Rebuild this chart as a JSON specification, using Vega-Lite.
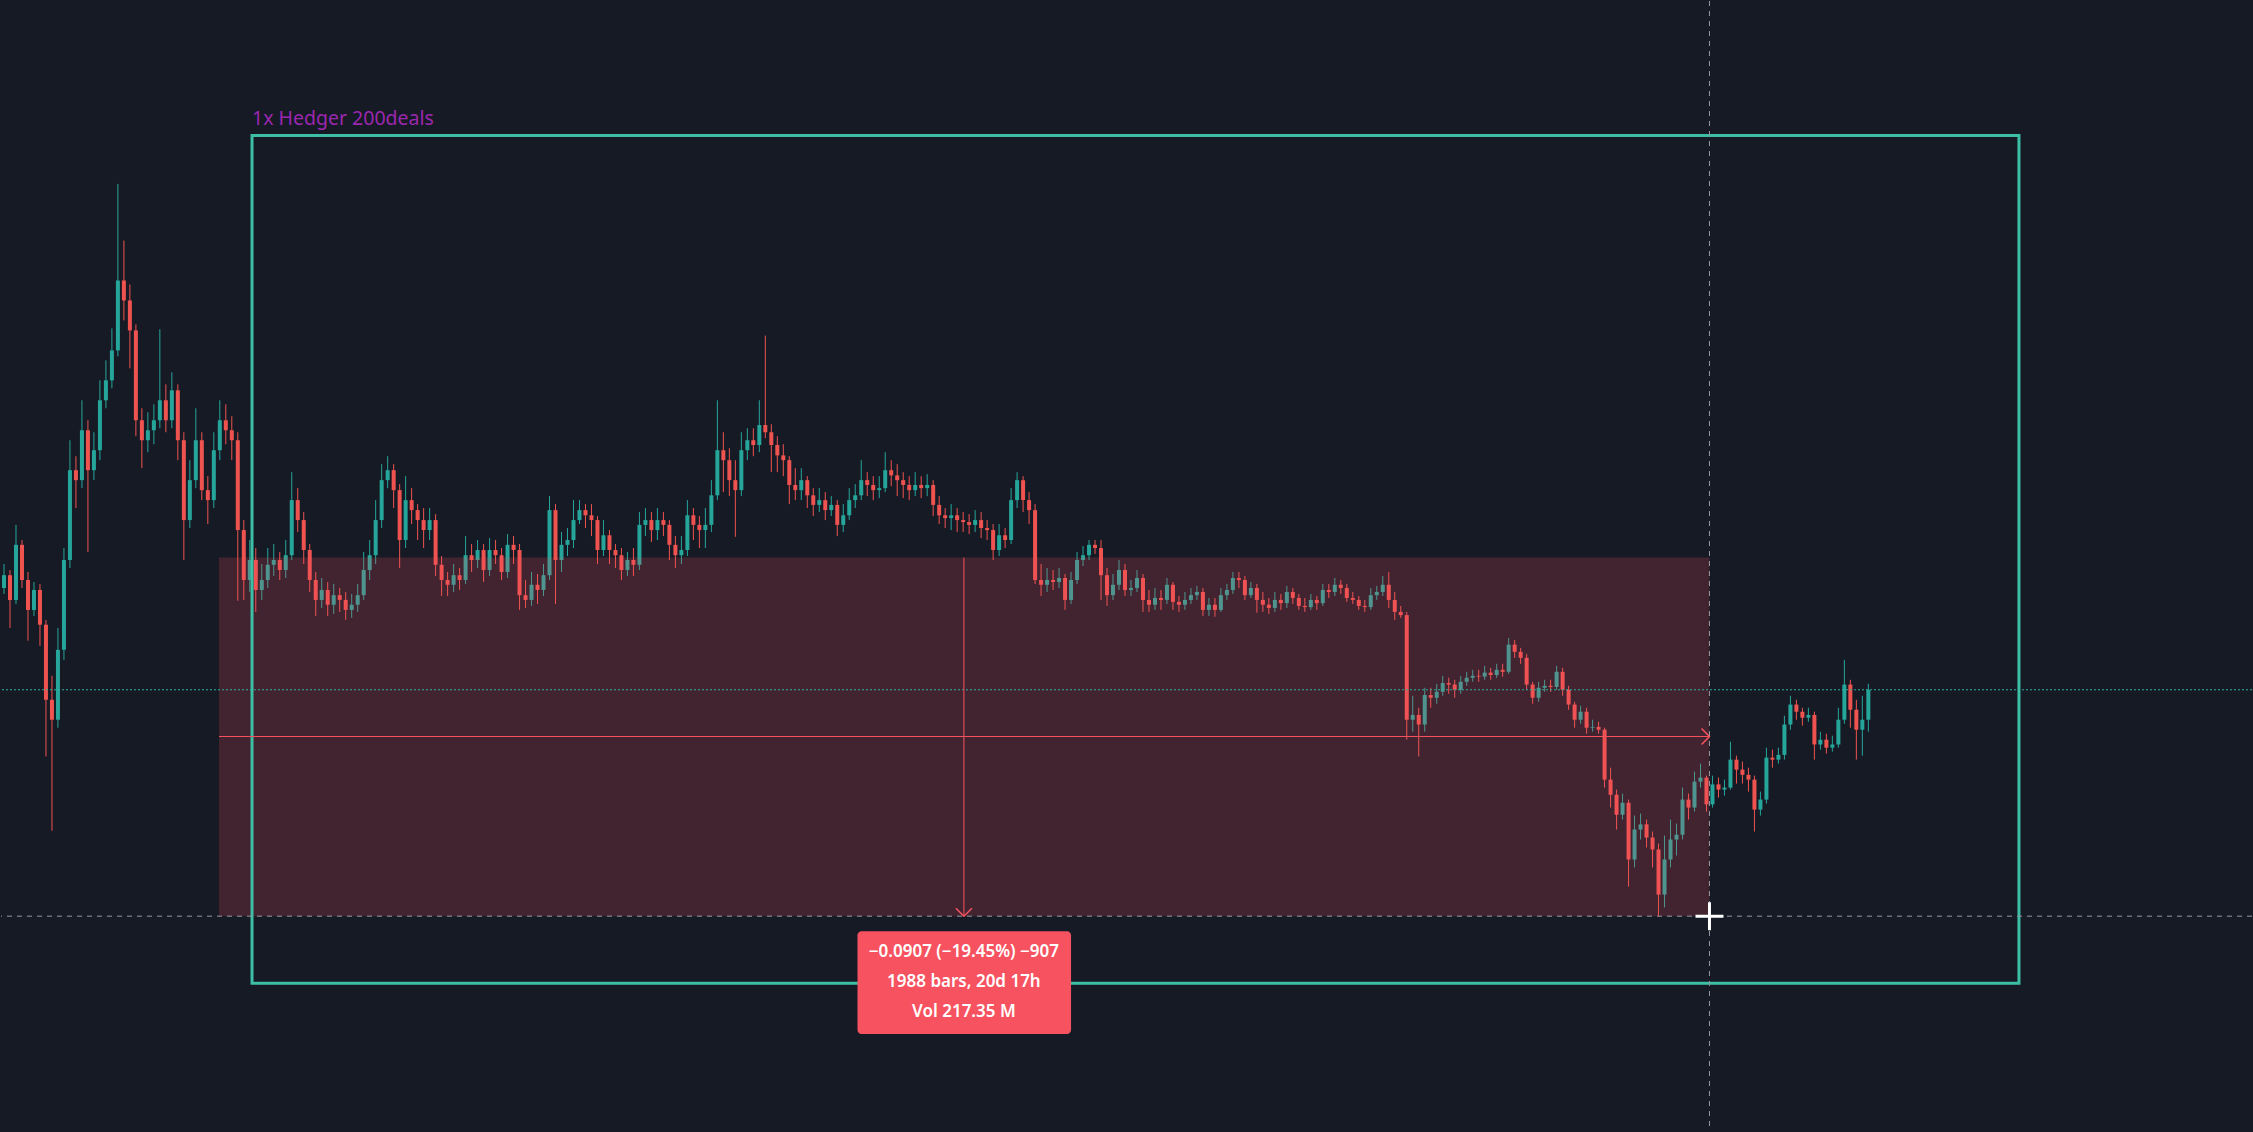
{
"$schema": "https://vega.github.io/schema/vega-lite/v6.json",
"width": 2253, "height": 1132,
"autosize": {"type": "fit", "contains": "padding"},
"padding": 0,
"background": "#161a25",
"config": {"view": {"stroke": null}, "axis": {"disable": true}, "scale": {"continuousPadding": 0}},
"datasets": {
"candles": [
{"t":4,"o":0.4600,"c":0.4632,"h":0.4660,"l":0.4585},
{"t":12,"o":0.4632,"c":0.4570,"h":0.4645,"l":0.4500},
{"t":20,"o":0.4570,"c":0.4708,"h":0.4758,"l":0.4560},
{"t":28,"o":0.4708,"c":0.4620,"h":0.4720,"l":0.4600},
{"t":36,"o":0.4620,"c":0.4545,"h":0.4640,"l":0.4468},
{"t":44,"o":0.4545,"c":0.4595,"h":0.4615,"l":0.4530},
{"t":52,"o":0.4595,"c":0.4508,"h":0.4610,"l":0.4455},
{"t":60,"o":0.4508,"c":0.4320,"h":0.4520,"l":0.4178},
{"t":68,"o":0.4320,"c":0.4270,"h":0.4380,"l":0.3992},
{"t":76,"o":0.4270,"c":0.4445,"h":0.4500,"l":0.4250},
{"t":84,"o":0.4445,"c":0.4670,"h":0.4700,"l":0.4420},
{"t":92,"o":0.4670,"c":0.4895,"h":0.4970,"l":0.4650},
{"t":100,"o":0.4895,"c":0.4870,"h":0.4930,"l":0.4800},
{"t":108,"o":0.4870,"c":0.4995,"h":0.5070,"l":0.4850},
{"t":116,"o":0.4995,"c":0.4895,"h":0.5020,"l":0.4690},
{"t":124,"o":0.4895,"c":0.4945,"h":0.4990,"l":0.4870},
{"t":132,"o":0.4945,"c":0.5070,"h":0.5120,"l":0.4920},
{"t":140,"o":0.5070,"c":0.5120,"h":0.5170,"l":0.5050},
{"t":148,"o":0.5120,"c":0.5195,"h":0.5250,"l":0.5100},
{"t":156,"o":0.5195,"c":0.5370,"h":0.5612,"l":0.5180},
{"t":164,"o":0.5370,"c":0.5320,"h":0.5470,"l":0.5270},
{"t":172,"o":0.5320,"c":0.5245,"h":0.5360,"l":0.5150},
{"t":180,"o":0.5245,"c":0.5020,"h":0.5260,"l":0.4980},
{"t":188,"o":0.5020,"c":0.4970,"h":0.5050,"l":0.4900},
{"t":196,"o":0.4970,"c":0.4995,"h":0.5040,"l":0.4940},
{"t":204,"o":0.4995,"c":0.5020,"h":0.5060,"l":0.4960},
{"t":212,"o":0.5020,"c":0.5070,"h":0.5248,"l":0.5000},
{"t":220,"o":0.5070,"c":0.5020,"h":0.5110,"l":0.4990},
{"t":228,"o":0.5020,"c":0.5095,"h":0.5140,"l":0.5000},
{"t":236,"o":0.5095,"c":0.4970,"h":0.5110,"l":0.4920},
{"t":244,"o":0.4970,"c":0.4770,"h":0.4990,"l":0.4670},
{"t":252,"o":0.4770,"c":0.4870,"h":0.4920,"l":0.4750},
{"t":260,"o":0.4870,"c":0.4970,"h":0.5050,"l":0.4850},
{"t":268,"o":0.4970,"c":0.4845,"h":0.4990,"l":0.4820},
{"t":276,"o":0.4845,"c":0.4820,"h":0.4880,"l":0.4760},
{"t":284,"o":0.4820,"c":0.4945,"h":0.4990,"l":0.4800},
{"t":292,"o":0.4945,"c":0.5020,"h":0.5070,"l":0.4920},
{"t":300,"o":0.5020,"c":0.4995,"h":0.5060,"l":0.4960},
{"t":308,"o":0.4995,"c":0.4970,"h":0.5030,"l":0.4920},
{"t":316,"o":0.4970,"c":0.4745,"h":0.4990,"l":0.4568},
{"t":324,"o":0.4745,"c":0.4620,"h":0.4770,"l":0.4570},
{"t":332,"o":0.4620,"c":0.4670,"h":0.4720,"l":0.4590},
{"t":340,"o":0.4670,"c":0.4595,"h":0.4700,"l":0.4540},
{"t":348,"o":0.4595,"c":0.4620,"h":0.4660,"l":0.4570},
{"t":356,"o":0.4620,"c":0.4658,"h":0.4700,"l":0.4600},
{"t":364,"o":0.4658,"c":0.4670,"h":0.4710,"l":0.4630},
{"t":372,"o":0.4670,"c":0.4645,"h":0.4690,"l":0.4620},
{"t":380,"o":0.4645,"c":0.4682,"h":0.4720,"l":0.4625},
{"t":388,"o":0.4682,"c":0.4820,"h":0.4890,"l":0.4670},
{"t":396,"o":0.4820,"c":0.4770,"h":0.4850,"l":0.4740},
{"t":404,"o":0.4770,"c":0.4695,"h":0.4790,"l":0.4660},
{"t":412,"o":0.4695,"c":0.4620,"h":0.4710,"l":0.4590},
{"t":420,"o":0.4620,"c":0.4570,"h":0.4640,"l":0.4530},
{"t":428,"o":0.4570,"c":0.4595,"h":0.4625,"l":0.4550},
{"t":436,"o":0.4595,"c":0.4558,"h":0.4615,"l":0.4530},
{"t":444,"o":0.4558,"c":0.4582,"h":0.4610,"l":0.4535},
{"t":452,"o":0.4582,"c":0.4570,"h":0.4600,"l":0.4540},
{"t":460,"o":0.4570,"c":0.4545,"h":0.4590,"l":0.4520},
{"t":468,"o":0.4545,"c":0.4558,"h":0.4585,"l":0.4525},
{"t":476,"o":0.4558,"c":0.4582,"h":0.4610,"l":0.4540},
{"t":484,"o":0.4582,"c":0.4645,"h":0.4690,"l":0.4570},
{"t":492,"o":0.4645,"c":0.4682,"h":0.4720,"l":0.4620},
{"t":500,"o":0.4682,"c":0.4770,"h":0.4820,"l":0.4660},
{"t":508,"o":0.4770,"c":0.4870,"h":0.4910,"l":0.4750},
{"t":516,"o":0.4870,"c":0.4895,"h":0.4930,"l":0.4850},
{"t":524,"o":0.4895,"c":0.4845,"h":0.4910,"l":0.4800},
{"t":532,"o":0.4845,"c":0.4720,"h":0.4860,"l":0.4650},
{"t":540,"o":0.4720,"c":0.4820,"h":0.4880,"l":0.4700},
{"t":548,"o":0.4820,"c":0.4795,"h":0.4850,"l":0.4760},
{"t":556,"o":0.4795,"c":0.4770,"h":0.4810,"l":0.4720},
{"t":564,"o":0.4770,"c":0.4745,"h":0.4800,"l":0.4700},
{"t":572,"o":0.4745,"c":0.4770,"h":0.4800,"l":0.4720},
{"t":580,"o":0.4770,"c":0.4658,"h":0.4785,"l":0.4630},
{"t":588,"o":0.4658,"c":0.4620,"h":0.4680,"l":0.4580},
{"t":596,"o":0.4620,"c":0.4608,"h":0.4640,"l":0.4580},
{"t":604,"o":0.4608,"c":0.4632,"h":0.4660,"l":0.4590},
{"t":612,"o":0.4632,"c":0.4620,"h":0.4650,"l":0.4595},
{"t":620,"o":0.4620,"c":0.4682,"h":0.4730,"l":0.4610},
{"t":628,"o":0.4682,"c":0.4670,"h":0.4710,"l":0.4640},
{"t":636,"o":0.4670,"c":0.4695,"h":0.4720,"l":0.4650},
{"t":644,"o":0.4695,"c":0.4645,"h":0.4710,"l":0.4615},
{"t":652,"o":0.4645,"c":0.4695,"h":0.4725,"l":0.4630},
{"t":660,"o":0.4695,"c":0.4682,"h":0.4720,"l":0.4660},
{"t":668,"o":0.4682,"c":0.4640,"h":0.4700,"l":0.4620},
{"t":676,"o":0.4640,"c":0.4708,"h":0.4735,"l":0.4625},
{"t":684,"o":0.4708,"c":0.4695,"h":0.4730,"l":0.4660},
{"t":692,"o":0.4695,"c":0.4582,"h":0.4710,"l":0.4545},
{"t":700,"o":0.4582,"c":0.4570,"h":0.4620,"l":0.4550},
{"t":708,"o":0.4570,"c":0.4608,"h":0.4640,"l":0.4555},
{"t":716,"o":0.4608,"c":0.4595,"h":0.4635,"l":0.4560},
{"t":724,"o":0.4595,"c":0.4632,"h":0.4660,"l":0.4580},
{"t":732,"o":0.4632,"c":0.4795,"h":0.4830,"l":0.4620},
{"t":740,"o":0.4795,"c":0.4670,"h":0.4810,"l":0.4560},
{"t":748,"o":0.4670,"c":0.4708,"h":0.4740,"l":0.4640},
{"t":756,"o":0.4708,"c":0.4720,"h":0.4750,"l":0.4680},
{"t":764,"o":0.4720,"c":0.4770,"h":0.4820,"l":0.4700},
{"t":772,"o":0.4770,"c":0.4795,"h":0.4820,"l":0.4760},
{"t":780,"o":0.4795,"c":0.4782,"h":0.4810,"l":0.4750},
{"t":788,"o":0.4782,"c":0.4770,"h":0.4810,"l":0.4730},
{"t":796,"o":0.4770,"c":0.4695,"h":0.4780,"l":0.4660},
{"t":804,"o":0.4695,"c":0.4732,"h":0.4770,"l":0.4680},
{"t":812,"o":0.4732,"c":0.4695,"h":0.4745,"l":0.4660},
{"t":820,"o":0.4695,"c":0.4682,"h":0.4710,"l":0.4650},
{"t":828,"o":0.4682,"c":0.4645,"h":0.4700,"l":0.4620},
{"t":836,"o":0.4645,"c":0.4670,"h":0.4690,"l":0.4630},
{"t":844,"o":0.4670,"c":0.4658,"h":0.4700,"l":0.4630},
{"t":852,"o":0.4658,"c":0.4758,"h":0.4790,"l":0.4645},
{"t":860,"o":0.4758,"c":0.4770,"h":0.4800,"l":0.4730},
{"t":868,"o":0.4770,"c":0.4745,"h":0.4790,"l":0.4715},
{"t":876,"o":0.4745,"c":0.4770,"h":0.4800,"l":0.4720},
{"t":884,"o":0.4770,"c":0.4758,"h":0.4790,"l":0.4730},
{"t":892,"o":0.4758,"c":0.4708,"h":0.4770,"l":0.4670},
{"t":900,"o":0.4708,"c":0.4682,"h":0.4730,"l":0.4650},
{"t":908,"o":0.4682,"c":0.4695,"h":0.4730,"l":0.4660},
{"t":916,"o":0.4695,"c":0.4782,"h":0.4820,"l":0.4680},
{"t":924,"o":0.4782,"c":0.4758,"h":0.4800,"l":0.4720},
{"t":932,"o":0.4758,"c":0.4745,"h":0.4780,"l":0.4700},
{"t":940,"o":0.4745,"c":0.4758,"h":0.4800,"l":0.4700},
{"t":948,"o":0.4758,"c":0.4832,"h":0.4870,"l":0.4740},
{"t":956,"o":0.4832,"c":0.4945,"h":0.5070,"l":0.4820},
{"t":964,"o":0.4945,"c":0.4920,"h":0.4990,"l":0.4840},
{"t":972,"o":0.4920,"c":0.4870,"h":0.4950,"l":0.4830},
{"t":980,"o":0.4870,"c":0.4845,"h":0.4920,"l":0.4728},
{"t":988,"o":0.4845,"c":0.4945,"h":0.4990,"l":0.4830},
{"t":996,"o":0.4945,"c":0.4970,"h":0.5000,"l":0.4920},
{"t":1004,"o":0.4970,"c":0.4958,"h":0.5000,"l":0.4930},
{"t":1012,"o":0.4958,"c":0.5008,"h":0.5070,"l":0.4940},
{"t":1020,"o":0.5008,"c":0.4990,"h":0.5232,"l":0.4975},
{"t":1028,"o":0.4990,"c":0.4958,"h":0.5010,"l":0.4890},
{"t":1036,"o":0.4958,"c":0.4932,"h":0.4980,"l":0.4890},
{"t":1044,"o":0.4932,"c":0.4920,"h":0.4960,"l":0.4880},
{"t":1052,"o":0.4920,"c":0.4858,"h":0.4930,"l":0.4810},
{"t":1060,"o":0.4858,"c":0.4845,"h":0.4900,"l":0.4820},
{"t":1068,"o":0.4845,"c":0.4870,"h":0.4900,"l":0.4820},
{"t":1076,"o":0.4870,"c":0.4832,"h":0.4880,"l":0.4800},
{"t":1084,"o":0.4832,"c":0.4808,"h":0.4850,"l":0.4780},
{"t":1092,"o":0.4808,"c":0.4820,"h":0.4850,"l":0.4790},
{"t":1100,"o":0.4820,"c":0.4795,"h":0.4840,"l":0.4770},
{"t":1108,"o":0.4795,"c":0.4808,"h":0.4830,"l":0.4780},
{"t":1116,"o":0.4808,"c":0.4758,"h":0.4820,"l":0.4730},
{"t":1124,"o":0.4758,"c":0.4782,"h":0.4810,"l":0.4740},
{"t":1132,"o":0.4782,"c":0.4820,"h":0.4850,"l":0.4770},
{"t":1140,"o":0.4820,"c":0.4832,"h":0.4860,"l":0.4800},
{"t":1148,"o":0.4832,"c":0.4870,"h":0.4920,"l":0.4820},
{"t":1156,"o":0.4870,"c":0.4858,"h":0.4890,"l":0.4830},
{"t":1164,"o":0.4858,"c":0.4845,"h":0.4880,"l":0.4820},
{"t":1172,"o":0.4845,"c":0.4850,"h":0.4880,"l":0.4825},
{"t":1180,"o":0.4850,"c":0.4895,"h":0.4940,"l":0.4840},
{"t":1188,"o":0.4895,"c":0.4882,"h":0.4920,"l":0.4855},
{"t":1196,"o":0.4882,"c":0.4870,"h":0.4910,"l":0.4830},
{"t":1204,"o":0.4870,"c":0.4858,"h":0.4890,"l":0.4825},
{"t":1212,"o":0.4858,"c":0.4845,"h":0.4880,"l":0.4820},
{"t":1220,"o":0.4845,"c":0.4858,"h":0.4890,"l":0.4830},
{"t":1228,"o":0.4858,"c":0.4850,"h":0.4880,"l":0.4825},
{"t":1236,"o":0.4850,"c":0.4858,"h":0.4885,"l":0.4830},
{"t":1244,"o":0.4858,"c":0.4808,"h":0.4870,"l":0.4780},
{"t":1252,"o":0.4808,"c":0.4782,"h":0.4830,"l":0.4760},
{"t":1260,"o":0.4782,"c":0.4775,"h":0.4800,"l":0.4750},
{"t":1268,"o":0.4775,"c":0.4782,"h":0.4810,"l":0.4745},
{"t":1276,"o":0.4782,"c":0.4770,"h":0.4800,"l":0.4740},
{"t":1284,"o":0.4770,"c":0.4765,"h":0.4790,"l":0.4740},
{"t":1292,"o":0.4765,"c":0.4758,"h":0.4785,"l":0.4735},
{"t":1300,"o":0.4758,"c":0.4770,"h":0.4795,"l":0.4740},
{"t":1308,"o":0.4770,"c":0.4750,"h":0.4790,"l":0.4725},
{"t":1316,"o":0.4750,"c":0.4745,"h":0.4770,"l":0.4720},
{"t":1324,"o":0.4745,"c":0.4695,"h":0.4760,"l":0.4670},
{"t":1332,"o":0.4695,"c":0.4732,"h":0.4760,"l":0.4680},
{"t":1340,"o":0.4732,"c":0.4720,"h":0.4750,"l":0.4700},
{"t":1348,"o":0.4720,"c":0.4820,"h":0.4850,"l":0.4710},
{"t":1356,"o":0.4820,"c":0.4870,"h":0.4890,"l":0.4800},
{"t":1364,"o":0.4870,"c":0.4820,"h":0.4880,"l":0.4790},
{"t":1372,"o":0.4820,"c":0.4795,"h":0.4840,"l":0.4760},
{"t":1380,"o":0.4795,"c":0.4620,"h":0.4810,"l":0.4610},
{"t":1388,"o":0.4620,"c":0.4608,"h":0.4660,"l":0.4580},
{"t":1396,"o":0.4608,"c":0.4620,"h":0.4650,"l":0.4590},
{"t":1404,"o":0.4620,"c":0.4615,"h":0.4645,"l":0.4595},
{"t":1412,"o":0.4615,"c":0.4625,"h":0.4650,"l":0.4600},
{"t":1420,"o":0.4625,"c":0.4570,"h":0.4635,"l":0.4545},
{"t":1428,"o":0.4570,"c":0.4620,"h":0.4640,"l":0.4560},
{"t":1436,"o":0.4620,"c":0.4670,"h":0.4690,"l":0.4610},
{"t":1444,"o":0.4670,"c":0.4682,"h":0.4705,"l":0.4655},
{"t":1452,"o":0.4682,"c":0.4708,"h":0.4720,"l":0.4670},
{"t":1460,"o":0.4708,"c":0.4700,"h":0.4720,"l":0.4685},
{"t":1468,"o":0.4700,"c":0.4632,"h":0.4720,"l":0.4570},
{"t":1476,"o":0.4632,"c":0.4582,"h":0.4650,"l":0.4555},
{"t":1484,"o":0.4582,"c":0.4608,"h":0.4635,"l":0.4570},
{"t":1492,"o":0.4608,"c":0.4645,"h":0.4670,"l":0.4595},
{"t":1500,"o":0.4645,"c":0.4595,"h":0.4660,"l":0.4580},
{"t":1508,"o":0.4595,"c":0.4600,"h":0.4620,"l":0.4580},
{"t":1516,"o":0.4600,"c":0.4625,"h":0.4645,"l":0.4590},
{"t":1524,"o":0.4625,"c":0.4570,"h":0.4635,"l":0.4540},
{"t":1532,"o":0.4570,"c":0.4558,"h":0.4595,"l":0.4540},
{"t":1540,"o":0.4558,"c":0.4575,"h":0.4600,"l":0.4545},
{"t":1548,"o":0.4575,"c":0.4570,"h":0.4595,"l":0.4545},
{"t":1556,"o":0.4570,"c":0.4608,"h":0.4625,"l":0.4560},
{"t":1564,"o":0.4608,"c":0.4565,"h":0.4615,"l":0.4545},
{"t":1572,"o":0.4565,"c":0.4558,"h":0.4580,"l":0.4540},
{"t":1580,"o":0.4558,"c":0.4570,"h":0.4590,"l":0.4545},
{"t":1588,"o":0.4570,"c":0.4582,"h":0.4600,"l":0.4560},
{"t":1596,"o":0.4582,"c":0.4590,"h":0.4605,"l":0.4570},
{"t":1604,"o":0.4590,"c":0.4545,"h":0.4600,"l":0.4530},
{"t":1612,"o":0.4545,"c":0.4558,"h":0.4575,"l":0.4530},
{"t":1620,"o":0.4558,"c":0.4545,"h":0.4575,"l":0.4528},
{"t":1628,"o":0.4545,"c":0.4582,"h":0.4600,"l":0.4540},
{"t":1636,"o":0.4582,"c":0.4595,"h":0.4610,"l":0.4570},
{"t":1644,"o":0.4595,"c":0.4625,"h":0.4640,"l":0.4585},
{"t":1652,"o":0.4625,"c":0.4620,"h":0.4640,"l":0.4600},
{"t":1660,"o":0.4620,"c":0.4582,"h":0.4630,"l":0.4570},
{"t":1668,"o":0.4582,"c":0.4600,"h":0.4615,"l":0.4575},
{"t":1676,"o":0.4600,"c":0.4570,"h":0.4610,"l":0.4538},
{"t":1684,"o":0.4570,"c":0.4558,"h":0.4590,"l":0.4540},
{"t":1692,"o":0.4558,"c":0.4550,"h":0.4575,"l":0.4535},
{"t":1700,"o":0.4550,"c":0.4570,"h":0.4590,"l":0.4540},
{"t":1708,"o":0.4570,"c":0.4562,"h":0.4585,"l":0.4545},
{"t":1716,"o":0.4562,"c":0.4590,"h":0.4605,"l":0.4550},
{"t":1724,"o":0.4590,"c":0.4575,"h":0.4600,"l":0.4560},
{"t":1732,"o":0.4575,"c":0.4555,"h":0.4585,"l":0.4545},
{"t":1740,"o":0.4555,"c":0.4552,"h":0.4575,"l":0.4540},
{"t":1748,"o":0.4552,"c":0.4570,"h":0.4585,"l":0.4545},
{"t":1756,"o":0.4570,"c":0.4562,"h":0.4580,"l":0.4545},
{"t":1764,"o":0.4562,"c":0.4595,"h":0.4610,"l":0.4555},
{"t":1772,"o":0.4595,"c":0.4590,"h":0.4610,"l":0.4575},
{"t":1780,"o":0.4590,"c":0.4608,"h":0.4625,"l":0.4580},
{"t":1788,"o":0.4608,"c":0.4600,"h":0.4620,"l":0.4585},
{"t":1796,"o":0.4600,"c":0.4575,"h":0.4610,"l":0.4565},
{"t":1804,"o":0.4575,"c":0.4570,"h":0.4590,"l":0.4560},
{"t":1812,"o":0.4570,"c":0.4555,"h":0.4580,"l":0.4545},
{"t":1820,"o":0.4555,"c":0.4552,"h":0.4570,"l":0.4540},
{"t":1828,"o":0.4552,"c":0.4582,"h":0.4600,"l":0.4545},
{"t":1836,"o":0.4582,"c":0.4590,"h":0.4605,"l":0.4570},
{"t":1844,"o":0.4590,"c":0.4608,"h":0.4630,"l":0.4580},
{"t":1852,"o":0.4608,"c":0.4570,"h":0.4640,"l":0.4550},
{"t":1860,"o":0.4570,"c":0.4540,"h":0.4590,"l":0.4520},
{"t":1868,"o":0.4540,"c":0.4532,"h":0.4555,"l":0.4525},
{"t":1876,"o":0.4532,"c":0.4270,"h":0.4540,"l":0.4220},
{"t":1884,"o":0.4270,"c":0.4282,"h":0.4330,"l":0.4240},
{"t":1892,"o":0.4282,"c":0.4258,"h":0.4300,"l":0.4178},
{"t":1900,"o":0.4258,"c":0.4332,"h":0.4350,"l":0.4240},
{"t":1908,"o":0.4332,"c":0.4325,"h":0.4350,"l":0.4300},
{"t":1916,"o":0.4325,"c":0.4340,"h":0.4360,"l":0.4310},
{"t":1924,"o":0.4340,"c":0.4362,"h":0.4380,"l":0.4330},
{"t":1932,"o":0.4362,"c":0.4358,"h":0.4375,"l":0.4335},
{"t":1940,"o":0.4358,"c":0.4345,"h":0.4370,"l":0.4325},
{"t":1948,"o":0.4345,"c":0.4365,"h":0.4380,"l":0.4335},
{"t":1956,"o":0.4365,"c":0.4375,"h":0.4390,"l":0.4355},
{"t":1964,"o":0.4375,"c":0.4380,"h":0.4395,"l":0.4365},
{"t":1972,"o":0.4380,"c":0.4378,"h":0.4395,"l":0.4365},
{"t":1980,"o":0.4378,"c":0.4388,"h":0.4405,"l":0.4370},
{"t":1988,"o":0.4388,"c":0.4382,"h":0.4400,"l":0.4370},
{"t":1996,"o":0.4382,"c":0.4395,"h":0.4410,"l":0.4375},
{"t":2004,"o":0.4395,"c":0.4390,"h":0.4410,"l":0.4378},
{"t":2012,"o":0.4390,"c":0.4458,"h":0.4475,"l":0.4385},
{"t":2020,"o":0.4458,"c":0.4440,"h":0.4470,"l":0.4425},
{"t":2028,"o":0.4440,"c":0.4425,"h":0.4450,"l":0.4410},
{"t":2036,"o":0.4425,"c":0.4358,"h":0.4435,"l":0.4345},
{"t":2044,"o":0.4358,"c":0.4325,"h":0.4365,"l":0.4310},
{"t":2052,"o":0.4325,"c":0.4350,"h":0.4365,"l":0.4315},
{"t":2060,"o":0.4350,"c":0.4355,"h":0.4370,"l":0.4340},
{"t":2068,"o":0.4355,"c":0.4352,"h":0.4370,"l":0.4340},
{"t":2076,"o":0.4352,"c":0.4390,"h":0.4405,"l":0.4345},
{"t":2084,"o":0.4390,"c":0.4345,"h":0.4400,"l":0.4330},
{"t":2092,"o":0.4345,"c":0.4308,"h":0.4355,"l":0.4295},
{"t":2100,"o":0.4308,"c":0.4270,"h":0.4315,"l":0.4250},
{"t":2108,"o":0.4270,"c":0.4290,"h":0.4305,"l":0.4260},
{"t":2116,"o":0.4290,"c":0.4250,"h":0.4300,"l":0.4235},
{"t":2124,"o":0.4250,"c":0.4252,"h":0.4270,"l":0.4240},
{"t":2132,"o":0.4252,"c":0.4245,"h":0.4265,"l":0.4235},
{"t":2140,"o":0.4245,"c":0.4120,"h":0.4250,"l":0.4100},
{"t":2148,"o":0.4120,"c":0.4082,"h":0.4150,"l":0.4050},
{"t":2156,"o":0.4082,"c":0.4032,"h":0.4095,"l":0.3995},
{"t":2164,"o":0.4032,"c":0.4062,"h":0.4085,"l":0.4020},
{"t":2172,"o":0.4062,"c":0.3920,"h":0.4070,"l":0.3852},
{"t":2180,"o":0.3920,"c":0.3995,"h":0.4030,"l":0.3900},
{"t":2188,"o":0.3995,"c":0.4008,"h":0.4035,"l":0.3970},
{"t":2196,"o":0.4008,"c":0.3975,"h":0.4020,"l":0.3950},
{"t":2204,"o":0.3975,"c":0.3945,"h":0.3990,"l":0.3900},
{"t":2212,"o":0.3945,"c":0.3832,"h":0.3960,"l":0.3778},
{"t":2220,"o":0.3832,"c":0.3920,"h":0.3980,"l":0.3800},
{"t":2228,"o":0.3920,"c":0.3970,"h":0.4020,"l":0.3900},
{"t":2236,"o":0.3970,"c":0.3982,"h":0.4010,"l":0.3930},
{"t":2244,"o":0.3982,"c":0.4070,"h":0.4100,"l":0.3970},
{"t":2252,"o":0.4070,"c":0.4050,"h":0.4085,"l":0.4020},
{"t":2260,"o":0.4050,"c":0.4115,"h":0.4140,"l":0.4040},
{"t":2268,"o":0.4115,"c":0.4125,"h":0.4160,"l":0.4100},
{"t":2276,"o":0.4125,"c":0.4058,"h":0.4130,"l":0.4040},
{"t":2284,"o":0.4058,"c":0.4108,"h":0.4130,"l":0.4050},
{"t":2292,"o":0.4108,"c":0.4095,"h":0.4125,"l":0.4075},
{"t":2300,"o":0.4095,"c":0.4100,"h":0.4120,"l":0.4080},
{"t":2308,"o":0.4100,"c":0.4170,"h":0.4215,"l":0.4095},
{"t":2316,"o":0.4170,"c":0.4145,"h":0.4180,"l":0.4110},
{"t":2324,"o":0.4145,"c":0.4132,"h":0.4165,"l":0.4110},
{"t":2332,"o":0.4132,"c":0.4120,"h":0.4150,"l":0.4090},
{"t":2340,"o":0.4120,"c":0.4045,"h":0.4130,"l":0.3990},
{"t":2348,"o":0.4045,"c":0.4070,"h":0.4090,"l":0.4030},
{"t":2356,"o":0.4070,"c":0.4175,"h":0.4200,"l":0.4060},
{"t":2364,"o":0.4175,"c":0.4170,"h":0.4195,"l":0.4150},
{"t":2372,"o":0.4170,"c":0.4182,"h":0.4200,"l":0.4160},
{"t":2380,"o":0.4182,"c":0.4258,"h":0.4280,"l":0.4170},
{"t":2388,"o":0.4258,"c":0.4308,"h":0.4330,"l":0.4245},
{"t":2396,"o":0.4308,"c":0.4290,"h":0.4320,"l":0.4270},
{"t":2404,"o":0.4290,"c":0.4275,"h":0.4300,"l":0.4255},
{"t":2412,"o":0.4275,"c":0.4282,"h":0.4300,"l":0.4265},
{"t":2420,"o":0.4282,"c":0.4208,"h":0.4290,"l":0.4170},
{"t":2428,"o":0.4208,"c":0.4220,"h":0.4240,"l":0.4195},
{"t":2436,"o":0.4220,"c":0.4200,"h":0.4235,"l":0.4185},
{"t":2444,"o":0.4200,"c":0.4208,"h":0.4230,"l":0.4190},
{"t":2452,"o":0.4208,"c":0.4270,"h":0.4300,"l":0.4200},
{"t":2460,"o":0.4270,"c":0.4358,"h":0.4420,"l":0.4260},
{"t":2468,"o":0.4358,"c":0.4295,"h":0.4370,"l":0.4250},
{"t":2476,"o":0.4295,"c":0.4245,"h":0.4320,"l":0.4170},
{"t":2484,"o":0.4245,"c":0.4270,"h":0.4330,"l":0.4180},
{"t":2492,"o":0.4270,"c":0.4345,"h":0.4360,"l":0.4240}
],
"range": [{"t": 291, "t2": 2280, "p": 0.4676, "p2": 0.3778}],
"box": [{"t": 335, "t2": 2693, "p": 0.5733, "p2": 0.3610}],
"midline": [{"t": 291, "t2": 2280, "p": 0.4228}],
"vline": [{"t": 1285, "p": 0.4676, "p2": 0.3778}],
"tip": [{"t": 1143, "t2": 1428, "p": 0.3740, "p2": 0.3483}],
"tiptext": [
{"t": 1285, "p": 0.3688, "txt": "−0.0907 (−19.45%) −907"},
{"t": 1285, "p": 0.3613, "txt": "1988 bars, 20d 17h"},
{"t": 1285, "p": 0.3538, "txt": "Vol 217.35 M"}
],
"label": [{"t": 335, "p": 0.5775, "txt": "1x Hedger 200deals"}]
},
"layer": [
{"data": {"name": "candles"}, "mark": {"type": "rule", "strokeWidth": 1},
 "encoding": {
  "x": {"field": "t", "type": "quantitative", "scale": {"domain": [0, 3004], "nice": false, "zero": false, "padding": 0}, "axis": null},
  "y": {"field": "l", "type": "quantitative", "scale": {"domain": [0.324, 0.607], "nice": false, "zero": false, "padding": 0}, "axis": null},
  "y2": {"field": "h"},
  "color": {"condition": {"test": "datum.c >= datum.o", "value": "#26a69a"}, "value": "#ef5350"}
 }},
{"data": {"name": "candles"}, "mark": {"type": "bar", "width": 4},
 "encoding": {
  "x": {"field": "t", "type": "quantitative"},
  "y": {"field": "o", "type": "quantitative"},
  "y2": {"field": "c"},
  "color": {"condition": {"test": "datum.c >= datum.o", "value": "#26a69a"}, "value": "#ef5350"}
 }},
{"data": {"name": "range"}, "mark": {"type": "rect", "color": "#f7525f", "opacity": 0.2},
 "encoding": {"x": {"field": "t", "type": "quantitative"}, "x2": {"field": "t2"}, "y": {"field": "p", "type": "quantitative"}, "y2": {"field": "p2"}}},
{"data": {"values": [{"p": 0.4345}]}, "mark": {"type": "rule", "color": "#2bb3a3", "strokeDash": [2, 2], "strokeWidth": 1},
 "encoding": {"y": {"field": "p", "type": "quantitative"}}},
{"data": {"name": "box"}, "mark": {"type": "rect", "filled": false, "stroke": "#3dbfa5", "strokeWidth": 3},
 "encoding": {"x": {"field": "t", "type": "quantitative"}, "x2": {"field": "t2"}, "y": {"field": "p", "type": "quantitative"}, "y2": {"field": "p2"}}},
{"data": {"name": "midline"}, "mark": {"type": "rule", "color": "#f7525f", "strokeWidth": 1},
 "encoding": {"x": {"field": "t", "type": "quantitative"}, "x2": {"field": "t2"}, "y": {"field": "p", "type": "quantitative"}}},
{"data": {"name": "vline"}, "mark": {"type": "rule", "color": "#f7525f", "strokeWidth": 1},
 "encoding": {"x": {"field": "t", "type": "quantitative"}, "y": {"field": "p", "type": "quantitative"}, "y2": {"field": "p2"}}},
{"data": {"values": [{"t": 2280, "p": 0.4228}]}, "mark": {"type": "point", "shape": "M-1,-1L0,0L-1,1", "filled": false, "stroke": "#f7525f", "strokeWidth": 1.5, "size": 256, "opacity": 1},
 "encoding": {"x": {"field": "t", "type": "quantitative"}, "y": {"field": "p", "type": "quantitative"}}},
{"data": {"values": [{"t": 1285, "p": 0.3778}]}, "mark": {"type": "point", "shape": "M-1,-1L0,0L1,-1", "filled": false, "stroke": "#f7525f", "strokeWidth": 1.5, "size": 256, "opacity": 1},
 "encoding": {"x": {"field": "t", "type": "quantitative"}, "y": {"field": "p", "type": "quantitative"}}},
{"data": {"values": [{"t": 2280}]}, "mark": {"type": "rule", "color": "#9598a1", "strokeDash": [5, 5], "strokeWidth": 1},
 "encoding": {"x": {"field": "t", "type": "quantitative"}}},
{"data": {"values": [{"p": 0.3778}]}, "mark": {"type": "rule", "color": "#9598a1", "strokeDash": [5, 5], "strokeWidth": 1},
 "encoding": {"y": {"field": "p", "type": "quantitative"}}},
{"data": {"name": "tip"}, "mark": {"type": "rect", "color": "#f7525f", "cornerRadius": 4},
 "encoding": {"x": {"field": "t", "type": "quantitative"}, "x2": {"field": "t2"}, "y": {"field": "p", "type": "quantitative"}, "y2": {"field": "p2"}}},
{"data": {"name": "tiptext"}, "mark": {"type": "text", "color": "#ffffff", "font": "Noto Sans", "fontSize": 17, "fontWeight": 600, "align": "center", "baseline": "middle"},
 "encoding": {"x": {"field": "t", "type": "quantitative"}, "y": {"field": "p", "type": "quantitative"}, "text": {"field": "txt"}}},
{"data": {"name": "label"}, "mark": {"type": "text", "color": "#9c27b0", "font": "Noto Sans", "fontSize": 19.5, "align": "left", "baseline": "middle"},
 "encoding": {"x": {"field": "t", "type": "quantitative"}, "y": {"field": "p", "type": "quantitative"}, "text": {"field": "txt"}}},
{"data": {"values": [{"t": 2280, "p": 0.3778}]}, "mark": {"type": "point", "shape": "M-1,0L1,0M0,-1L0,1", "filled": false, "stroke": "#ffffff", "strokeWidth": 3, "size": 784, "opacity": 1},
 "encoding": {"x": {"field": "t", "type": "quantitative"}, "y": {"field": "p", "type": "quantitative"}}}
]
}
